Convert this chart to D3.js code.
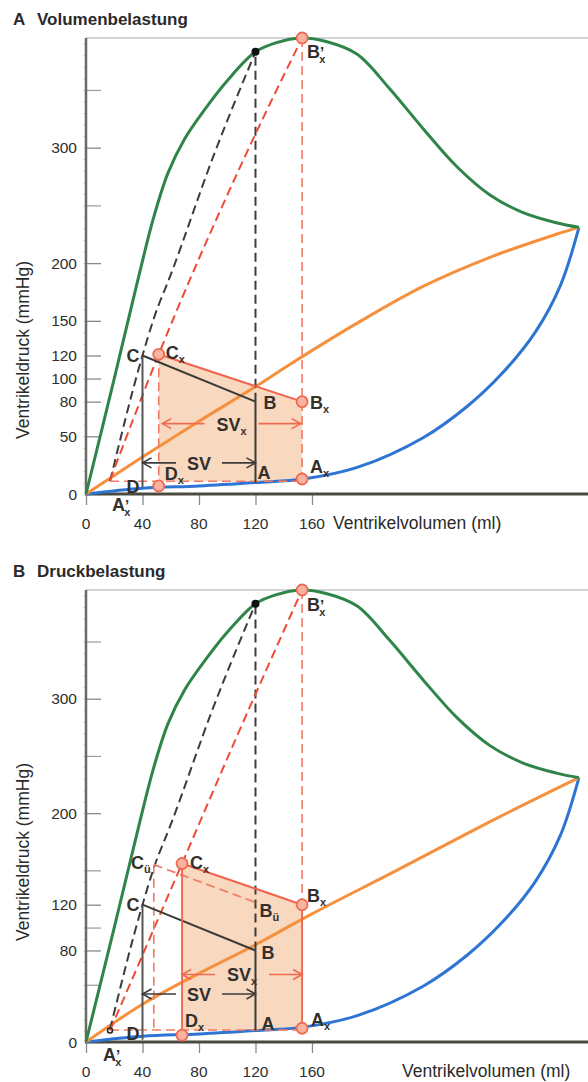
<!DOCTYPE html>
<html>
<head>
<meta charset="utf-8">
<script src="https://cdn.jsdelivr.net/npm/d3@7"></script>
<style>
  body { margin: 0; background: #fff; }
  text { font-family: "Liberation Sans", Arial, Helvetica, sans-serif; }
</style>
</head>
<body>
<div class="container"></div>
<script>
// page size
const width = 588;
const height = 1082;

// curves: [volume ml, pressure mmHg]
const isoMaxCurve = [[0,0],[20,100],[38,192],[48,240],[58,278],[70,308],[84,333],[100,358],[120,383],[135,391],[152,395],[170,392],[192,381],[215,351],[239,316],[263,283],[286,259],[309,244],[333,235],[349,231]];
const restCurve = [[0,0],[40,5],[80,7],[120,10],[154,13],[192,23],[239,49],[270,76],[295,105],[318,140],[336,181],[349,231]];
const supportCurveA = [[0,0],[20,16],[40,32],[80,63],[120,93],[144,112],[192,148],[239,180],[286,205],[333,225],[349,231]];
const supportCurveB = [[0,0],[40,33],[80,60],[120,85],[160,112],[220,150],[290,195],[349,231]];
const uCurve = [[17,11],[40,120],[48,152],[60,190],[90,292],[120,383]];
const uCurveXA = [[17,12],[51.5,121],[109,283],[153,395]];
const uCurveXB = [[17,10],[68,156],[110,276],[153,395]];

// ticks
const xTicks = [0, 40, 80, 120, 160];
const yTicksA = [0, 50, 80, 100, 120, 150, 200, 300];
const yMinorA = [250, 350];
const yTicksB = [0, 80, 120, 200, 300];
const yMinorB = [50, 100, 150, 250, 350];

// loop points panel A
const loopA = [[40,6],[40,120],[120,80],[120,10]];      // D, C, B, A
const loopXA = [[51.5,7],[51.5,121],[153,80],[153,13]]; // Dx, Cx, Bx, Ax
const svA = [40, 120, 27];
const svXA = [54, 152, 61];
const bottomA = 11;

// loop points panel B
const loopB = [[40,2],[40,120],[120,80],[120,10]];
const loopXB = [[68,6],[68,156],[153,120],[153,12]];
const loopUB = [[48,155],[120,122]];                    // Cü, Bü
const svB = [40, 120, 42];
const svXB = [68, 153, 59];
const bottomB = 10.5;

const isoPoint = [120, 383];
const topPointX = [153, 395];
const startPointX = [17, 10];

const green = "#2f8549", orange = "#f5903c", blue = "#2d74d3";
const red = "#ee4a36", redLight = "#f27a66", dark = "#3a3a36", peach = "#f9d8c0";

const svg = d3.select(".container")
  .append("svg")
  .attr("width", width)
  .attr("height", height);

const x = d3.scaleLinear().domain([0, 355]).range([86, 587.4]);

function drawPanel(top, bottom, cfg) {
  const y = d3.scaleLinear().domain([0, 395]).range([bottom, top]);
  const g = svg.append("g");
  const line = d3.line().x(d => x(d[0])).y(d => y(d[1]));
  const smooth = d3.line().x(d => x(d[0])).y(d => y(d[1])).curve(d3.curveMonotoneX);
  const curve = d3.line().x(d => x(d[0])).y(d => y(d[1])).curve(d3.curveCatmullRom.alpha(0.5));

  // title
  g.append("text").attr("x", 13).attr("y", top - 13)
    .attr("font-size", 17).attr("font-weight", "bold").attr("fill", "#2a2a2a")
    .text(cfg.letter);
  g.append("text").attr("x", 37).attr("y", top - 13)
    .attr("font-size", 17).attr("font-weight", "bold").attr("fill", "#2a2a2a")
    .text(cfg.title);

  // filled stroke volume area
  const lx = cfg.loopX;
  g.append("path")
    .attr("d", line([lx[1], lx[2], [lx[3][0], cfg.bottom], [lx[0][0], cfg.bottom]]))
    .attr("fill", peach);

  // frame
  g.append("line").attr("x1", x(0)).attr("x2", width).attr("y1", top).attr("y2", top)
    .attr("stroke", "#a8a8a8").attr("stroke-width", 1.2);

  // y axis
  const yAxis = d3.axisRight(y).tickValues(cfg.yTicks).tickSize(15).tickFormat("");
  g.append("g").attr("transform", `translate(${x(0)},0)`).call(yAxis)
    .call(a => a.select(".domain").remove())
    .call(a => a.selectAll("line").attr("stroke", "#8a8a8a").attr("stroke-width", 1.3));
  g.append("g").attr("transform", `translate(${x(0)},0)`)
    .call(d3.axisRight(y).tickValues(cfg.yMinor).tickSize(15).tickFormat(""))
    .call(a => a.select(".domain").remove())
    .call(a => a.selectAll("line").attr("stroke", "#9a9a9a").attr("stroke-width", 1.2));
  g.append("g").attr("transform", `translate(${x(0)},0)`)
    .call(d3.axisLeft(y).tickValues(d3.range(10, 395, 10)).tickSize(2.5).tickFormat(""))
    .call(a => a.select(".domain").remove())
    .call(a => a.selectAll("line").attr("stroke", "#c8c8c8").attr("stroke-width", 1));
  g.selectAll(".ylab").data(cfg.yTicks).join("text")
    .attr("x", 77).attr("y", d => y(d) + 5.5)
    .attr("text-anchor", "end").attr("font-size", 15.5).attr("fill", "#2e2e2e")
    .text(d => d);
  g.append("line").attr("x1", x(0)).attr("x2", x(0)).attr("y1", top).attr("y2", bottom)
    .attr("stroke", "#6a6a66").attr("stroke-width", 2.5);

  // x axis
  g.append("g").attr("transform", `translate(0,${bottom})`)
    .call(d3.axisBottom(x).tickValues(xTicks).tickSize(11).tickFormat(""))
    .call(a => a.select(".domain").remove())
    .call(a => a.selectAll("line").attr("stroke", "#8a8a8a").attr("stroke-width", 1.3));
  g.selectAll(".xlab").data(xTicks).join("text")
    .attr("x", d => x(d)).attr("y", bottom + 35)
    .attr("text-anchor", "middle").attr("font-size", 15.5).attr("fill", "#2e2e2e")
    .text(d => d);
  g.append("line").attr("x1", x(0) - 1).attr("x2", width).attr("y1", bottom).attr("y2", bottom)
    .attr("stroke", "#4a4a40").attr("stroke-width", 3);
  g.append("text").attr("x", cfg.xLabelX).attr("y", bottom + 35)
    .attr("font-size", 17.5).attr("fill", "#2a2a2a")
    .text("Ventrikelvolumen (ml)");
  g.append("text")
    .attr("transform", `translate(29,${cfg.yLabelY}) rotate(-90)`)
    .attr("text-anchor", "middle").attr("font-size", 17.5).attr("fill", "#2a2a2a")
    .text("Ventrikeldruck (mmHg)");

  // main curves
  g.append("path").attr("d", curve(restCurve)).attr("fill", "none")
    .attr("stroke", blue).attr("stroke-width", 3);
  g.append("path").attr("d", curve(cfg.support)).attr("fill", "none")
    .attr("stroke", orange).attr("stroke-width", 3);
  g.append("path").attr("d", curve(isoMaxCurve)).attr("fill", "none")
    .attr("stroke", green).attr("stroke-width", 3);

  // dashed construction lines
  const dash = "9,5";
  g.append("path").attr("d", smooth(uCurve)).attr("fill", "none")
    .attr("stroke", "#3c3c3c").attr("stroke-width", 2).attr("stroke-dasharray", dash);
  g.append("path").attr("d", line([[isoPoint[0], cfg.loop[2][1]], isoPoint])).attr("fill", "none")
    .attr("stroke", "#3c3c3c").attr("stroke-width", 2).attr("stroke-dasharray", dash);
  g.append("path").attr("d", smooth(cfg.uCurveX)).attr("fill", "none")
    .attr("stroke", red).attr("stroke-width", 2).attr("stroke-dasharray", dash);
  g.append("path").attr("d", line([topPointX, cfg.xRightSolid ? lx[2] : lx[3]])).attr("fill", "none")
    .attr("stroke", redLight).attr("stroke-width", 1.6).attr("stroke-dasharray", dash);
  g.append("path").attr("d", line([[startPointX[0], cfg.bottom], [lx[3][0], cfg.bottom]])).attr("fill", "none")
    .attr("stroke", redLight).attr("stroke-width", 1.6).attr("stroke-dasharray", dash);
  if (!cfg.xRightSolid) {
    g.append("path").attr("d", line([lx[1], lx[0]])).attr("fill", "none")
      .attr("stroke", redLight).attr("stroke-width", 1.6).attr("stroke-dasharray", dash);
  }
  if (cfg.loopU) {
    const u = cfg.loopU;
    g.append("path").attr("d", line(u)).attr("fill", "none")
      .attr("stroke", redLight).attr("stroke-width", 1.8).attr("stroke-dasharray", dash);
    g.append("path").attr("d", line([u[0], [u[0][0], cfg.bottom]])).attr("fill", "none")
      .attr("stroke", redLight).attr("stroke-width", 1.6).attr("stroke-dasharray", dash);
  }

  // normal loop
  const l = cfg.loop;
  g.append("path").attr("d", line([l[0], l[1]])).attr("stroke", "#555").attr("stroke-width", 2).attr("fill", "none");
  g.append("path").attr("d", line([l[1], l[2]])).attr("stroke", dark).attr("stroke-width", 2).attr("fill", "none");
  g.append("path").attr("d", line([l[2], l[3]])).attr("stroke", dark).attr("stroke-width", 2).attr("fill", "none");

  // loaded loop
  g.append("path").attr("d", line([lx[1], lx[2]])).attr("stroke", "#f0634c").attr("stroke-width", 2).attr("fill", "none");
  if (cfg.xRightSolid) {
    g.append("path").attr("d", line([lx[0], lx[1]])).attr("stroke", "#f0634c").attr("stroke-width", 1.8).attr("fill", "none");
    g.append("path").attr("d", line([lx[2], lx[3]])).attr("stroke", "#f0634c").attr("stroke-width", 1.8).attr("fill", "none");
  }

  // stroke volume arrows
  function arrow(sv, color, main, gap) {
    const x1 = x(sv[0]), x2 = x(sv[1]), yy = y(sv[2]), mid = (x1 + x2) / 2;
    g.append("line").attr("x1", x1).attr("x2", mid - gap).attr("y1", yy).attr("y2", yy)
      .attr("stroke", color).attr("stroke-width", 1.6);
    g.append("line").attr("x1", mid + gap).attr("x2", x2).attr("y1", yy).attr("y2", yy)
      .attr("stroke", color).attr("stroke-width", 1.6);
    g.append("path").attr("d", `M${x1 + 9},${yy - 5}L${x1},${yy}L${x1 + 9},${yy + 5}`)
      .attr("stroke", color).attr("stroke-width", 1.6).attr("fill", "none");
    g.append("path").attr("d", `M${x2 - 9},${yy - 5}L${x2},${yy}L${x2 - 9},${yy + 5}`)
      .attr("stroke", color).attr("stroke-width", 1.6).attr("fill", "none");
    addLabel(g, mid, yy + 7, "SV", main, false, "middle");
  }
  arrow(cfg.svX, "#f06a52", "x", 27);
  arrow(cfg.sv, "#3c3c3c", null, 23);

  // markers
  const circles = [lx[0], lx[1], lx[2], lx[3], topPointX];
  g.selectAll(".pt").data(circles).join("circle")
    .attr("cx", d => x(d[0])).attr("cy", d => y(d[1])).attr("r", 5.5)
    .attr("fill", "#f8b4a0").attr("stroke", "#f06a52").attr("stroke-width", 1.8);
  g.append("circle").attr("cx", x(isoPoint[0])).attr("cy", y(isoPoint[1])).attr("r", 4)
    .attr("fill", "#111");
  if (cfg.loopU) {
    g.append("circle").attr("cx", x(startPointX[0])).attr("cy", y(startPointX[1])).attr("r", 2.5)
      .attr("fill", "none").attr("stroke", "#222").attr("stroke-width", 1.5);
  }

  // point labels
  cfg.labels.forEach(d => addLabel(g, x(d[0]) + d[1], y(d[2]) + d[3], d[4], d[5], d[6], d[7]));
}

function addLabel(g, px, py, main, sub, prime, anchor) {
  const t = g.append("text").attr("x", px).attr("y", py)
    .attr("font-size", 18).attr("font-weight", "bold").attr("fill", "#33302c")
    .attr("text-anchor", anchor || "start");
  t.append("tspan").text(main);
  if (prime) {
    t.append("tspan").attr("font-size", 15).attr("dy", -1).text("’");
    t.append("tspan").attr("font-size", 11).attr("dx", -5).attr("dy", 6).text(sub);
  } else if (sub) {
    t.append("tspan").attr("font-size", 11).attr("dy", 4).text(sub);
  }
}

// label table: [vol, dx, pressure, dy, main, sub, prime, anchor]
const labelsA = [
  [40, -3, 120, 7, "C", null, false, "end"],
  [51.5, 7, 121, 5, "C", "x", false, "start"],
  [120, 8, 80, 7, "B", null, false, "start"],
  [153, 8, 80, 7, "B", "x", false, "start"],
  [120, 2, 10, -3, "A", null, false, "start"],
  [153, 8, 13, -6, "A", "x", false, "start"],
  [40, -3, 6, 6, "D", null, false, "end"],
  [51.5, 6, 7, -6, "D", "x", false, "start"],
  [17, 2, 0, 17, "A", "x", true, "start"],
  [153, 5, 395, 20, "B", "x", true, "start"]
];
const labelsB = [
  [48, -3, 155, 4, "C", "ü", false, "end"],
  [68, 8, 156, 6, "C", "x", false, "start"],
  [40, -3, 120, 6, "C", null, false, "end"],
  [120, 6, 80, 9, "B", null, false, "start"],
  [120, 4, 122, 15, "B", "ü", false, "start"],
  [153, 5, 120, -3, "B", "x", false, "start"],
  [120, 6, 10, -1, "A", null, false, "start"],
  [153, 9, 12, -2, "A", "x", false, "start"],
  [40, -3, 2, 0, "D", null, false, "end"],
  [68, 3, 6, -8, "D", "x", false, "start"],
  [17, -7, 0, 19, "A", "x", true, "start"],
  [153, 5, 395, 21, "B", "x", true, "start"]
];

drawPanel(38, 494, {
  letter: "A", title: "Volumenbelastung",
  yTicks: yTicksA, yMinor: yMinorA, yLabelY: 350, xLabelX: 333,
  support: supportCurveA, uCurveX: uCurveXA,
  loop: loopA, loopX: loopXA, sv: svA, svX: svXA, bottom: bottomA,
  xRightSolid: false, labels: labelsA
});

drawPanel(590, 1042, {
  letter: "B", title: "Druckbelastung",
  yTicks: yTicksB, yMinor: yMinorB, yLabelY: 852, xLabelX: 402,
  support: supportCurveB, uCurveX: uCurveXB,
  loop: loopB, loopX: loopXB, loopU: loopUB, sv: svB, svX: svXB, bottom: bottomB,
  xRightSolid: true, labels: labelsB
});
</script>
</body>
</html>
